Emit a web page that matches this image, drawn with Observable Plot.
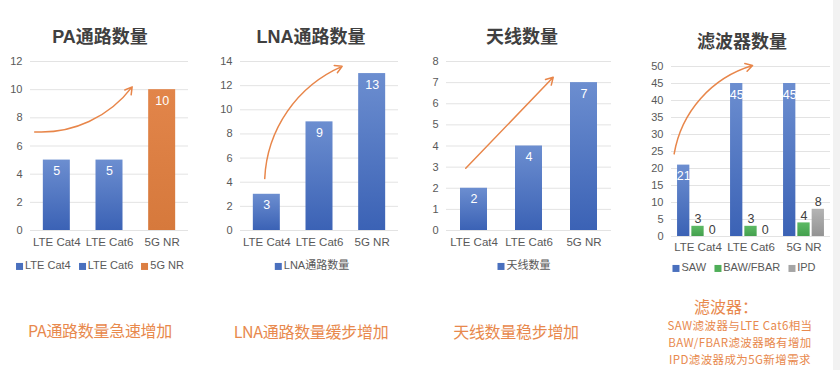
<!DOCTYPE html>
<html><head><meta charset="utf-8">
<script src="https://cdn.jsdelivr.net/npm/d3@7"></script>
<script src="https://cdn.jsdelivr.net/npm/@observablehq/plot@0.6"></script>
<style>
body{margin:0;background:#fff;width:840px;height:370px;overflow:hidden;font-family:"Liberation Sans","Noto Sans CJK SC",sans-serif;}
#root{position:relative;width:840px;height:370px;}
.title{font-weight:bold;font-size:18px;color:#404040;transform:translate(-50%,-50%);white-space:nowrap;line-height:1.1;font-family:"Liberation Sans","Noto Sans CJK SC",sans-serif;}
.legend{transform:translate(-50%,-50%);white-space:nowrap;font-size:11px;line-height:1.1;color:#595959;display:flex;align-items:center;gap:8px;}
.legend span.sw{display:inline-block;width:7px;height:7px;margin-right:2px;vertical-align:middle;}
.note{color:#E8894D;font-size:16px;line-height:1.05;transform:translate(-50%,-50%);white-space:nowrap;font-family:"Noto Sans CJK SC",sans-serif;letter-spacing:-0.3px;}
.block{color:#E8894D;font-family:"Noto Sans CJK SC",sans-serif;text-align:center;white-space:nowrap;transform:translateX(-50%);font-size:11.5px;line-height:17px;letter-spacing:0.4px;}
.block .head{font-size:16px;line-height:22px;letter-spacing:0;}
.edge{position:absolute;left:833px;top:0;width:7px;height:370px;background:#f2f2f2;}
</style></head>
<body>
<svg width="0" height="0" style="position:absolute">
  <defs>
    <linearGradient id="gBlue" x1="0" y1="0" x2="0" y2="1"><stop offset="0" stop-color="#6C8ED0"/><stop offset="1" stop-color="#3B62B5"/></linearGradient>
    <linearGradient id="gOrange" x1="0" y1="0" x2="0" y2="1"><stop offset="0" stop-color="#E2854A"/><stop offset="1" stop-color="#D6793C"/></linearGradient>
    <linearGradient id="gGreen" x1="0" y1="0" x2="0" y2="1"><stop offset="0" stop-color="#5DBA64"/><stop offset="1" stop-color="#44A04E"/></linearGradient>
    <linearGradient id="gGrey" x1="0" y1="0" x2="0" y2="1"><stop offset="0" stop-color="#B4B4B4"/><stop offset="1" stop-color="#939393"/></linearGradient>
  </defs>
</svg>
<div id="root"></div>
<script>
// ---- data ----
const categories = ["LTE Cat4", "LTE Cat6", "5G NR"];
const paValues = [5, 5, 10];
const lnaValues = [3, 9, 13];
const antennaValues = [2, 4, 7];
const filterSeries = ["SAW", "BAW/FBAR", "IPD"];
const sawValues = [21, 45, 45];
const bawValues = [3, 3, 4];
const ipdValues = [0, 0, 8];
const paTicks = [0, 2, 4, 6, 8, 10, 12];
const lnaTicks = [0, 2, 4, 6, 8, 10, 12, 14];
const antennaTicks = [0, 1, 2, 3, 4, 5, 6, 7, 8];
const filterTicks = [0, 5, 10, 15, 20, 25, 30, 35, 40, 45, 50];
const titles = ["PA通路数量", "LNA通路数量", "天线数量", "滤波器数量"];
const notesMain = ["PA通路数量急速增加", "LNA通路数量缓步增加", "天线数量稳步增加"];
const filterNoteHead = "滤波器：";
const filterNoteLines = ["SAW滤波器与LTE Cat6相当", "BAW/FBAR滤波器略有增加", "IPD滤波器成为5G新增需求"];

// trend arrow annotations (data space)
const annotations = {
  pa: [{x1: -0.42, y1: 7.0, x2: 1.43, y2: 10.2, bend: -28}],
  lna: [{x1: -0.04, y1: 4.3, x2: 1.43, y2: 13.6, bend: 32}],
  antenna: [{x1: -0.15, y1: 2.95, x2: 1.44, y2: 7.25, bend: 0}],
  filter: [{x1: -0.45, y1: 24.3, x2: 1.03, y2: 50.3, bend: 32}]
};

const root = document.getElementById("root");
const FONT = "'Liberation Sans','Noto Sans CJK SC',sans-serif";

function place(el, left, top) {
  el.style.position = "absolute";
  el.style.left = left + "px";
  el.style.top = top + "px";
  root.appendChild(el);
}

function commonMarks(ticks) {
  return [
    Plot.gridY(ticks, {stroke: "#e3e3e3", strokeOpacity: 1}),
    Plot.axisY(ticks, {tickSize: 0, tickPadding: 8, fontSize: 11, fill: "#595959", label: null}),
    Plot.axisX([0, 1, 2], {tickSize: 0, tickPadding: 7, fontSize: 11.5, fill: "#595959", label: null, tickFormat: i => categories[i]}),
  ];
}

function singlePanel({values, fills, ticks, yMax, width, left, arrow}) {
  const data = categories.map((c, i) => ({i, c, v: values[i], fill: fills[i]}));
  const stepPx = (width - 37) / 3;
  const inset = (stepPx - 27) / 2;
  const svg = Plot.plot({
    width, height: 200,
    marginLeft: 30, marginRight: 7, marginTop: 11, marginBottom: 20,
    style: {fontFamily: FONT, background: "transparent"},
    x: {domain: [-0.5, 2.5], axis: null},
    y: {domain: [0, yMax], axis: null},
    marks: [
      ...commonMarks(ticks),
      Plot.rectY(data, {x1: d => d.i - 0.5, x2: d => d.i + 0.5, y: "v", fill: d => d.fill, insetLeft: inset, insetRight: inset}),
      Plot.text(data, {x: "i", y: "v", text: d => String(d.v), dy: 11, fill: "white", fontSize: 12.5}),
      Plot.arrow(arrow, {x1: "x1", y1: "y1", x2: "x2", y2: "y2", bend: arrow[0].bend, stroke: "#E8864A", strokeWidth: 1.5, headLength: 8})
    ]
  });
  svg.style.overflow = "visible";
  place(svg, left, 50);
}

singlePanel({values: paValues, fills: ["url(#gBlue)", "url(#gBlue)", "url(#gOrange)"], ticks: paTicks, yMax: 12, width: 195, left: 0, arrow: annotations.pa});
singlePanel({values: lnaValues, fills: ["url(#gBlue)", "url(#gBlue)", "url(#gBlue)"], ticks: lnaTicks, yMax: 14, width: 195, left: 210, arrow: annotations.lna});
singlePanel({values: antennaValues, fills: ["url(#gBlue)", "url(#gBlue)", "url(#gBlue)"], ticks: antennaTicks, yMax: 8, width: 202, left: 416, arrow: annotations.antenna});

// filter panel (grouped)
{
  const seriesValues = [sawValues, bawValues, ipdValues];
  const seriesFill = ["url(#gBlue)", "url(#gGreen)", "url(#gGrey)"];
  const width = 196;
  const stepPx = (width - 37) / 3;
  const barW = 12.3, gap = 14.3;
  const inset = (stepPx - barW) / 2;
  const marks = [
    Plot.gridY(filterTicks, {stroke: "#e3e3e3", strokeOpacity: 1}),
    Plot.axisY(filterTicks, {tickSize: 0, tickPadding: 8, fontSize: 11, fill: "#595959", label: null}),
    Plot.axisX([0, 1, 2], {tickSize: 0, tickPadding: 6, fontSize: 11.5, fill: "#595959", label: null, tickFormat: i => categories[i]}),
  ];
  filterSeries.forEach((s, j) => {
    const data = categories.map((c, i) => ({i, c, s, v: seriesValues[j][i]}));
    marks.push(Plot.rectY(data.filter(d => d.v > 0), {x1: d => d.i - 0.5, x2: d => d.i + 0.5, y: "v", fill: seriesFill[j], insetLeft: inset, insetRight: inset, dx: (j - 1) * gap}));
    if (j === 0) {
      marks.push(Plot.text(data, {x: "i", y: "v", text: d => String(d.v), dy: 11, dx: (j - 1) * gap, fill: "white", fontSize: 12.5}));
    } else {
      marks.push(Plot.text(data, {x: "i", y: "v", text: d => String(d.v), dy: -7, dx: (j - 1) * gap, fill: "#404040", fontSize: 12.5}));
    }
  });
  const arrow = annotations.filter;
  marks.push(Plot.arrow(arrow, {x1: "x1", y1: "y1", x2: "x2", y2: "y2", bend: arrow[0].bend, stroke: "#E8864A", strokeWidth: 1.5, headLength: 8}));
  const svg = Plot.plot({
    width, height: 201,
    marginLeft: 30, marginRight: 7, marginTop: 11, marginBottom: 20,
    style: {fontFamily: FONT, background: "transparent"},
    x: {domain: [-0.5, 2.5], axis: null},
    y: {domain: [0, 50], axis: null},
    marks
  });
  svg.style.overflow = "visible";
  place(svg, 641, 55);
}

// titles
const titlePos = [[100, 38], [311, 38], [522, 38], [742, 43]];
titles.forEach((t, k) => {
  const d = document.createElement("div");
  d.className = "title";
  d.textContent = t;
  place(d, titlePos[k][0], titlePos[k][1]);
});

// legends
function legend(items, x, y) {
  const d = document.createElement("div");
  d.className = "legend";
  items.forEach(([label, color]) => {
    const it = document.createElement("span");
    it.innerHTML = `<span class="sw" style="background:${color}"></span>${label}`;
    d.appendChild(it);
  });
  place(d, x, y);
}
legend([[categories[0], "#4A70BE"], [categories[1], "#4A70BE"], [categories[2], "#DC7E42"]], 100, 265);
legend([["LNA通路数量", "#4A70BE"]], 312, 265);
legend([["天线数量", "#4A70BE"]], 524, 265);
legend([[filterSeries[0], "#4A70BE"], [filterSeries[1], "#4FAE58"], [filterSeries[2], "#A5A5A5"]], 744, 267);

// notes
const notePos = [[100, 330], [311, 331], [516, 331]];
notesMain.forEach((t, k) => {
  const d = document.createElement("div");
  d.className = "note";
  d.textContent = t;
  place(d, notePos[k][0], notePos[k][1]);
});
{
  const d = document.createElement("div");
  d.className = "block";
  d.innerHTML = `<span class="head" style="padding-right:28px">${filterNoteHead}</span><br>` + filterNoteLines.join("<br>");
  place(d, 740, 295);
}
const edge = document.createElement("div");
edge.className = "edge";
root.appendChild(edge);
</script>
</body></html>
